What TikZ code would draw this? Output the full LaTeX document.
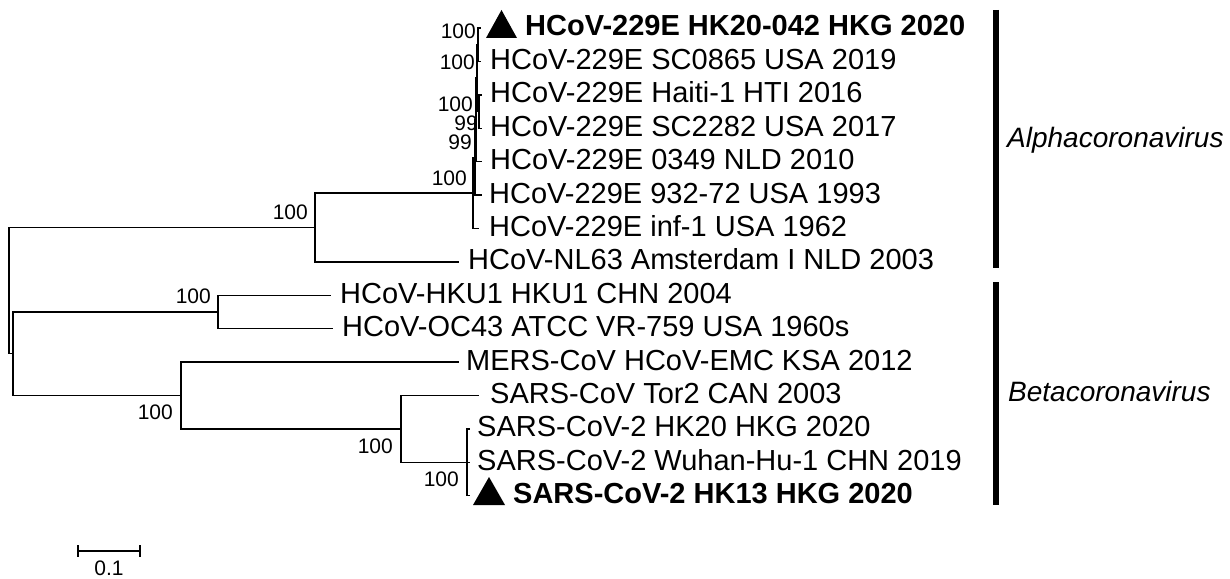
\documentclass[tikz,border=0pt]{standalone}
\usepackage{fontspec}
\setmainfont{Liberation Sans}
\usetikzlibrary{calc}
\begin{document}
\begin{tikzpicture}[x=1pt,y=-1pt,
  br/.style={line width=1.4pt, line cap=rect},
  taxon/.style={anchor=base west, inner sep=0pt, font=\fontsize{29}{34}\selectfont},
  btaxon/.style={taxon, font=\fontsize{29}{34}\selectfont\bfseries},
  boot/.style={anchor=east, inner sep=0pt, font=\fontsize{21}{25}\selectfont},
  clade/.style={anchor=base west, inner sep=0pt, font=\fontsize{28}{33}\selectfont\itshape},
  cbar/.style={line width=6pt},
  trimark/.style={fill=black}]
\useasboundingbox (0,0) rectangle (1230,578);
% internal nodes
\coordinate (root) at (9,290.5);
\coordinate (alpha) at (315,227.4);
\coordinate (beta) at (13,353.7);
\coordinate (nA) at (473,192.9);
\coordinate (nB) at (475,157.4);
\coordinate (nC) at (476,119.9);
\coordinate (nE) at (477,78.1);
\coordinate (nD) at (479,111.5);
\coordinate (nF) at (478,44.7);
\coordinate (embeco) at (218,311.9);
\coordinate (ms) at (181,395.4);
\coordinate (sars) at (401,428.8);
\coordinate (sarsb) at (467,462.2);
% tips
\coordinate (t1) at (480,28);
\coordinate (t2) at (480,61.4);
\coordinate (t3) at (481,94.8);
\coordinate (t4) at (481,128.2);
\coordinate (t5) at (481,161.6);
\coordinate (t6) at (481,195);
\coordinate (t7) at (478,228.4);
\coordinate (t8) at (458,261.8);
\coordinate (t9) at (330,295.2);
\coordinate (t10) at (332,328.6);
\coordinate (t11) at (458,362);
\coordinate (t12) at (478,395.4);
\coordinate (t13) at (469,428.8);
\coordinate (t14) at (469,462.2);
\coordinate (t15) at (469,495.6);
% branches
\draw[br] (root) |- (alpha);
\draw[br] (root) |- (beta);
\draw[br] (alpha) |- (nA);
\draw[br] (alpha) |- (t8);
\draw[br] (nA) |- (nB);
\draw[br] (nA) |- (t7);
\draw[br] (nB) |- (nC);
\draw[br] (nB) |- (t6);
\draw[br] (nC) |- (nE);
\draw[br] (nC) |- (t5);
\draw[br] (nE) |- (nF);
\draw[br] (nE) |- (nD);
\draw[br] (nF) |- (t1);
\draw[br] (nF) |- (t2);
\draw[br] (nD) |- (t3);
\draw[br] (nD) |- (t4);
\draw[br] (beta) |- (embeco);
\draw[br] (beta) |- (ms);
\draw[br] (embeco) |- (t9);
\draw[br] (embeco) |- (t10);
\draw[br] (ms) |- (t11);
\draw[br] (ms) |- (sars);
\draw[br] (sars) |- (t12);
\draw[br] (sars) |- (sarsb);
\draw[br] (sarsb) |- (t13);
\draw[br] (sarsb) |- (t14);
\draw[br] (sarsb) |- (t15);
% bootstrap values
\node[boot] (b1) at (476,31) {100};
\node[boot] (b2) at (475,62.5) {100};
\node[boot] (b3) at (473,104) {100};
\node[boot] (b4) at (478,123) {99};
\node[boot] (b5) at (472,142) {99};
\node[boot] (b6) at (467,178) {100};
\node[boot] (b7) at (308,212.5) {100};
\node[boot] (b8) at (211,296) {100};
\node[boot] (b9) at (173,412) {100};
\node[boot] (b10) at (393,446) {100};
\node[boot] (b11) at (459,479) {100};
% markers
\fill[trimark] (486,38) -- (501.5,10) -- (517,38) -- cycle;
\fill[trimark] (473,505) -- (489,477) -- (505,505) -- cycle;
% taxa
\node[btaxon] (l1) at (525,36) {HCoV-229E HK20-042 HKG 2020};
\node[taxon] (l2) at (490,69.4) {HCoV-229E SC0865 USA 2019};
\node[taxon] (l3) at (490,102.8) {HCoV-229E Haiti-1 HTI 2016};
\node[taxon] (l4) at (490,136.2) {HCoV-229E SC2282 USA 2017};
\node[taxon] (l5) at (490,169.6) {HCoV-229E 0349 NLD 2010};
\node[taxon] (l6) at (489,203) {HCoV-229E 932-72 USA 1993};
\node[taxon] (l7) at (489,236.4) {HCoV-229E inf-1 USA 1962};
\node[taxon] (l8) at (468,269.8) {HCoV-NL63 Amsterdam I NLD 2003};
\node[taxon] (l9) at (340,303.2) {HCoV-HKU1 HKU1 CHN 2004};
\node[taxon] (l10) at (342,336.6) {HCoV-OC43 ATCC VR-759 USA 1960s};
\node[taxon] (l11) at (466,370) {MERS-CoV HCoV-EMC KSA 2012};
\node[taxon] (l12) at (490,403.4) {SARS-CoV Tor2 CAN 2003};
\node[taxon] (l13) at (477,436.8) {SARS-CoV-2 HK20 HKG 2020};
\node[taxon] (l14) at (477,470.2) {SARS-CoV-2 Wuhan-Hu-1 CHN 2019};
\node[btaxon] (l15) at (513,503.6) {SARS-CoV-2 HK13 HKG 2020};
% clade bars
\coordinate (a1) at (996,10);
\coordinate (a2) at (996,268);
\coordinate (c1) at (996,282);
\coordinate (c2) at (996,505);
\draw[cbar] (a1) -- (a2);
\draw[cbar] (c1) -- (c2);
\node[clade] (alab) at (1007,147) {Alphacoronavirus};
\node[clade] (blab) at (1008,401) {Betacoronavirus};
% scale bar
\coordinate (s1) at (78,551);
\coordinate (s2) at (140,551);
\draw[br] (s1) -- (s2);
\draw[br] ($(s1)+(0,-5.5)$) -- ($(s1)+(0,5.5)$);
\draw[br] ($(s2)+(0,-5.5)$) -- ($(s2)+(0,5.5)$);
\node[inner sep=0pt, font=\fontsize{21}{25}\selectfont] (slab) at (109,568) {0.1};
\end{tikzpicture}
\end{document}
